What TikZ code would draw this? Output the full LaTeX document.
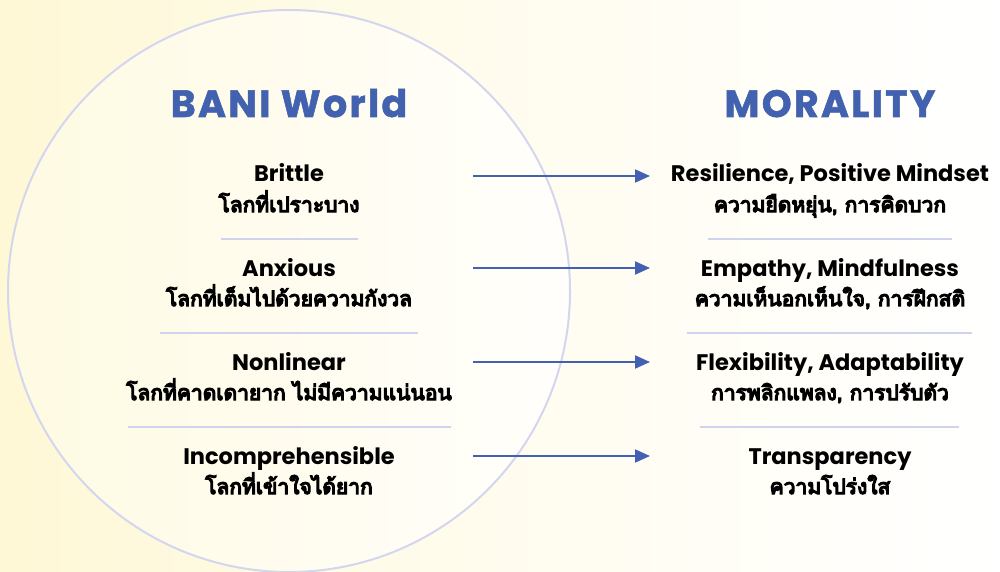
\documentclass[tikz,border=0pt]{standalone}
\usepackage{fontspec}
\usetikzlibrary{arrows.meta}
\setmainfont{Poppins}
\newfontfamily\thaif[Script=Thai,AutoFakeBold=6]{Loma}
\newfontfamily\titlef[LetterSpace=6,BoldFeatures={FakeBold=1.4}]{Poppins}
\definecolor{titleblue}{HTML}{4262AF}
\definecolor{arrowblue}{HTML}{4461B1}
\definecolor{sepcol}{HTML}{D0D3EE}
\definecolor{circcol}{HTML}{D4D6F0}
\definecolor{bgyel}{HTML}{FEF8D6}
\tikzset{
  title/.style={text=titleblue,font=\titlef\fontsize{38}{38}\selectfont\bfseries,inner sep=0pt,anchor=base},
  en/.style={font=\fontsize{22.5}{22.5}\selectfont\bfseries,inner sep=0pt,anchor=base},
  th/.style={font=\thaif\fontsize{21}{21}\selectfont\bfseries,inner sep=0pt,anchor=base},
  sep/.style={draw=sepcol,line width=2pt},
  conn/.style={draw=arrowblue,line width=2pt,-{Triangle[length=15pt,width=13pt]}}
}
\begin{document}
\begin{tikzpicture}[x=1pt,y=-1pt]
\useasboundingbox (0,0) rectangle (1000,572);
\shade[left color=bgyel,right color=white,middle color=white!60!bgyel] (0,0) rectangle (1000,572);
\draw[circcol,line width=2pt,left color=bgyel!70!white,right color=white!92!bgyel] (289,291) circle (281);
\node[title] (tl) at (289,117) {BANI World};
\node[title] (tr) at (830,117) {MORALITY};
% left items
\node[en] (l1e) at (289,182) {Brittle};
\node[th] (l1t) at (289,212) {โลกที่เปราะบาง};
\node[en] (l2e) at (289,276) {Anxious};
\node[th] (l2t) at (289,306) {โลกที่เต็มไปด้วยความกังวล};
\node[en] (l3e) at (289,370) {Nonlinear};
\node[th] (l3t) at (289,400) {โลกที่คาดเดายาก ไม่มีความแน่นอน};
\node[en] (l4e) at (289,464) {Incomprehensible};
\node[th] (l4t) at (289,494) {โลกที่เข้าใจได้ยาก};
% right items
\node[en] (r1e) at (830,182) {Resilience, Positive Mindset};
\node[th] (r1t) at (830,212) {ความยืดหยุ่น, การคิดบวก};
\node[en] (r2e) at (830,276) {Empathy, Mindfulness};
\node[th] (r2t) at (830,306) {ความเห็นอกเห็นใจ, การฝึกสติ};
\node[en] (r3e) at (830,370) {Flexibility, Adaptability};
\node[th] (r3t) at (830,400) {การพลิกแพลง, การปรับตัว};
\node[en] (r4e) at (830,464) {Transparency};
\node[th] (r4t) at (830,494) {ความโปร่งใส};
% separators
\coordinate (s1a) at (221,239); \coordinate (s1b) at (358,239);
\coordinate (s2a) at (160,333); \coordinate (s2b) at (418,333);
\coordinate (s3a) at (128,427); \coordinate (s3b) at (451,427);
\coordinate (s4a) at (708,239); \coordinate (s4b) at (952,239);
\coordinate (s5a) at (687,333); \coordinate (s5b) at (972,333);
\coordinate (s6a) at (700,427); \coordinate (s6b) at (959,427);
\foreach \i in {1,...,6} \draw[sep] (s\i a) -- (s\i b);
% arrows
\coordinate (a1s) at (473,176); \coordinate (a1e) at (650,176);
\coordinate (a2s) at (473,268); \coordinate (a2e) at (650,268);
\coordinate (a3s) at (473,362); \coordinate (a3e) at (650,362);
\coordinate (a4s) at (473,456); \coordinate (a4e) at (650,456);
\foreach \i in {1,...,4} \draw[conn] (a\i s) -- (a\i e);
\end{tikzpicture}
\end{document}
